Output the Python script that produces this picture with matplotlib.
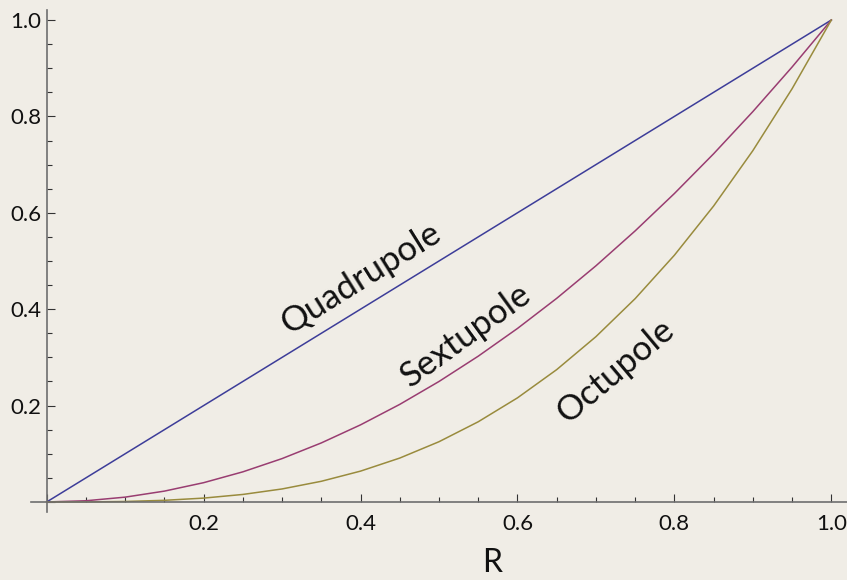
import numpy as np
import matplotlib.pyplot as plt
from matplotlib.ticker import MultipleLocator, FuncFormatter

# Radial field profiles for the multipole magnets
r = [0.0, 0.05, 0.10, 0.15, 0.20, 0.25, 0.30, 0.35, 0.40, 0.45, 0.50,
     0.55, 0.60, 0.65, 0.70, 0.75, 0.80, 0.85, 0.90, 0.95, 1.0]
quadrupole = [0.0, 0.05, 0.10, 0.15, 0.20, 0.25, 0.30, 0.35, 0.40, 0.45, 0.50,
              0.55, 0.60, 0.65, 0.70, 0.75, 0.80, 0.85, 0.90, 0.95, 1.0]
sextupole = [0.0, 0.0025, 0.010, 0.0225, 0.040, 0.0625, 0.090, 0.1225, 0.160, 0.2025, 0.250,
             0.3025, 0.360, 0.4225, 0.490, 0.5625, 0.640, 0.7225, 0.810, 0.9025, 1.0]
octupole = [0.0, 0.0001, 0.001, 0.0034, 0.008, 0.0156, 0.027, 0.0429, 0.064, 0.0911, 0.125,
            0.1664, 0.216, 0.2746, 0.343, 0.4219, 0.512, 0.6141, 0.729, 0.8574, 1.0]

bg = "#f0ede6"
plt.rcParams['font.family'] = ['Lato', 'DejaVu Sans']

fig = plt.figure(figsize=(8.47, 5.80), dpi=100, facecolor=bg)
ax = fig.add_axes([31 / 847, 68.4 / 580, 816 / 847, 501.2 / 580], facecolor=bg)

ax.plot(r, quadrupole, color=(0.24, 0.24, 0.6), lw=1.1)
ax.plot(r, sextupole, color=(0.6, 0.24, 0.442), lw=1.1)
ax.plot(r, octupole, color=(0.6, 0.547, 0.24), lw=1.1)

ax.set_xlim(-0.02, 1.02)
ax.set_ylim(-0.02, 1.02)

# axes through the origin, Mathematica style
for side in ["top", "right"]:
    ax.spines[side].set_visible(False)
for side in ["left", "bottom"]:
    ax.spines[side].set_position(("data", 0))
    ax.spines[side].set_color("#6e6e6e")
    ax.spines[side].set_linewidth(1.2)

ax.xaxis.set_major_locator(MultipleLocator(0.2))
ax.xaxis.set_minor_locator(MultipleLocator(0.05))
ax.yaxis.set_major_locator(MultipleLocator(0.2))
ax.yaxis.set_minor_locator(MultipleLocator(0.05))
fmt = FuncFormatter(lambda v, p: "" if abs(v) < 1e-9 else f"{v:.1f}")
ax.xaxis.set_major_formatter(fmt)
ax.yaxis.set_major_formatter(fmt)

ax.tick_params(which="major", direction="in", length=6, width=0.8, color="#333333",
               labelsize=16, labelcolor="#111111")
ax.tick_params(which="minor", direction="in", length=3.6, width=0.8, color="#333333")
ax.tick_params(axis="x", which="major", pad=9)
ax.tick_params(axis="y", which="major", pad=4)

ax.set_xlabel("R", fontsize=23, color="#111111")
ax.xaxis.set_label_coords(0.565, -0.072)

label_kw = dict(fontsize=25, ha="center", va="center",
                rotation_mode="anchor", color="#111111")
ax.text(0.40, 0.465, "Quadrupole", rotation=32, **label_kw)
ax.text(0.535, 0.345, "Sextupole", rotation=36, **label_kw)
ax.text(0.725, 0.272, "Octupole", rotation=40, **label_kw)

fig.savefig("out.png", dpi=100, facecolor=bg)
